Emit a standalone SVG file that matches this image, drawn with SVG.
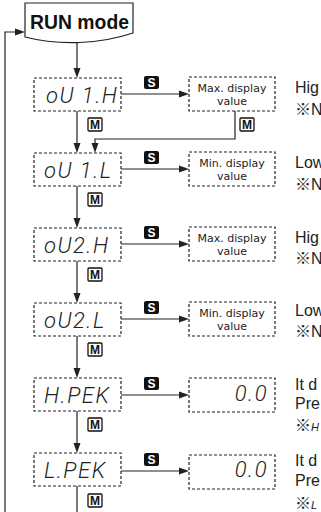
<svg xmlns="http://www.w3.org/2000/svg" width="321" height="512" viewBox="0 0 321 512">
<style>
.box{fill:#fff;stroke:#222;stroke-width:1.2;stroke-dasharray:3 2}
.ln{fill:none;stroke:#222;stroke-width:1.2}
.ah{fill:#222}
.disp{font-family:Roboto,"Liberation Sans",sans-serif;font-style:italic;font-weight:300;font-size:22px;fill:#222;letter-spacing:1.5px}
.val{font-family:"DejaVu Sans",sans-serif;font-size:11px;fill:#222;text-anchor:middle}
.desc{font-family:"Liberation Sans","Noto Sans CJK JP",sans-serif;font-size:16px;fill:#222}
.sk{fill:#111}
.st{font-family:"Liberation Sans",sans-serif;font-weight:bold;font-size:12px;fill:#fff;text-anchor:middle}
.mk{fill:#fff;stroke:#111;stroke-width:1.3}
.mt{font-family:"Liberation Sans",sans-serif;font-weight:bold;font-size:12px;fill:#111;text-anchor:middle}
</style>
<defs>
<g id="sKey"><rect class="sk" x="0" y="0" width="15" height="13" rx="2"/><text class="st" x="7.5" y="11">S</text></g>
<g id="mKey"><rect class="mk" x="0" y="0" width="14" height="13" rx="1"/><text class="mt" x="7" y="11">M</text></g>
</defs>

<g id="run-mode">
<path d="M25,3 H133 V33 C100,44 60,46 25,37 Z" fill="#fff" stroke="#222" stroke-width="1.2"/>
<text x="30" y="29" font-family="Liberation Sans,sans-serif" font-weight="bold" font-size="21" fill="#111" textLength="99" lengthAdjust="spacingAndGlyphs">RUN mode</text>
</g>

<g id="connectors">
<line class="ln" x1="77" y1="42" x2="77" y2="70"/><polygon class="ah" points="77,78 73.5,68 80.5,68"/>
<line class="ln" x1="77" y1="111" x2="77" y2="145"/><polygon class="ah" points="77,153 73.5,143 80.5,143"/>
<line class="ln" x1="77" y1="186" x2="77" y2="220"/><polygon class="ah" points="77,228 73.5,218 80.5,218"/>
<line class="ln" x1="77" y1="261" x2="77" y2="295"/><polygon class="ah" points="77,303 73.5,293 80.5,293"/>
<line class="ln" x1="77" y1="336" x2="77" y2="370"/><polygon class="ah" points="77,378 73.5,368 80.5,368"/>
<line class="ln" x1="77" y1="411" x2="77" y2="445"/><polygon class="ah" points="77,453 73.5,443 80.5,443"/>
<line class="ln" x1="77" y1="486" x2="77" y2="512"/>
<polyline class="ln" points="235,111 235,139 95,139 95,145"/><polygon class="ah" points="95,153 91.5,143 98.5,143"/>
<polyline class="ln" points="5,512 5,32 17,32"/><polygon class="ah" points="25,32 15,28.5 15,35.5"/>
<line class="ln" x1="121" y1="94" x2="181" y2="94"/><polygon class="ah" points="189,94 179,90.5 179,97.5"/>
<line class="ln" x1="121" y1="169" x2="181" y2="169"/><polygon class="ah" points="189,169 179,165.5 179,172.5"/>
<line class="ln" x1="121" y1="244" x2="181" y2="244"/><polygon class="ah" points="189,244 179,240.5 179,247.5"/>
<line class="ln" x1="121" y1="319" x2="181" y2="319"/><polygon class="ah" points="189,319 179,315.5 179,322.5"/>
<line class="ln" x1="121" y1="395" x2="181" y2="395"/><polygon class="ah" points="189,395 179,391.5 179,398.5"/>
<line class="ln" x1="121" y1="471" x2="181" y2="471"/><polygon class="ah" points="189,471 179,467.5 179,474.5"/>
<use href="#sKey" x="144" y="76"/>
<use href="#sKey" x="144" y="151"/>
<use href="#sKey" x="144" y="226"/>
<use href="#sKey" x="144" y="301"/>
<use href="#sKey" x="144" y="377"/>
<use href="#sKey" x="144" y="453"/>
<use href="#mKey" x="88" y="118"/>
<use href="#mKey" x="88" y="193"/>
<use href="#mKey" x="88" y="268"/>
<use href="#mKey" x="88" y="343"/>
<use href="#mKey" x="88" y="418"/>
<use href="#mKey" x="88" y="494"/>
<use href="#mKey" x="240" y="118"/>
</g>

<g id="oU1H"><rect class="box" x="34" y="78" width="87" height="33"/><text class="disp" x="46" y="103">oU 1.H</text></g>
<g id="oU1L"><rect class="box" x="34" y="153" width="87" height="33"/><text class="disp" x="44" y="178">oU 1.L</text></g>
<g id="oU2H"><rect class="box" x="34" y="228" width="87" height="33"/><text class="disp" x="44" y="253">oU2.H</text></g>
<g id="oU2L"><rect class="box" x="34" y="303" width="87" height="33"/><text class="disp" x="44" y="328">oU2.L</text></g>
<g id="HPEK"><rect class="box" x="34" y="378" width="87" height="33"/><text class="disp" x="44" y="403">H.PEK</text></g>
<g id="LPEK"><rect class="box" x="34" y="453" width="87" height="33"/><text class="disp" x="44" y="478">L.PEK</text></g>

<g id="max1"><rect class="box" x="189" y="77" width="86" height="34"/><text class="val" x="232" y="92">Max. display</text><text class="val" x="232" y="105">value</text></g>
<g id="min1"><rect class="box" x="189" y="152" width="86" height="34"/><text class="val" x="232" y="167">Min. display</text><text class="val" x="232" y="180">value</text></g>
<g id="max2"><rect class="box" x="189" y="227" width="86" height="34"/><text class="val" x="232" y="242">Max. display</text><text class="val" x="232" y="255">value</text></g>
<g id="min2"><rect class="box" x="189" y="302" width="86" height="34"/><text class="val" x="232" y="317">Min. display</text><text class="val" x="232" y="330">value</text></g>
<g id="zero1"><rect class="box" x="189" y="378" width="86" height="34"/><text class="disp" x="268" y="401" text-anchor="end">0.0</text></g>
<g id="zero2"><rect class="box" x="189" y="455" width="86" height="34"/><text class="disp" x="268" y="477" text-anchor="end">0.0</text></g>

<g id="descriptions">
<text class="desc" x="295" y="93">Hig</text><text class="desc" x="295" y="115">※N</text>
<text class="desc" x="295" y="168">Low</text><text class="desc" x="295" y="190">※N</text>
<text class="desc" x="295" y="243">Hig</text><text class="desc" x="295" y="264">※N</text>
<text class="desc" x="295" y="316">Low</text><text class="desc" x="295" y="337">※N</text>
<text class="desc" x="295" y="390">It d</text><text class="desc" x="295" y="409">Pre</text><text class="desc" x="295" y="431">※<tspan font-style="italic" font-size="11">H</tspan></text>
<text class="desc" x="295" y="466">It d</text><text class="desc" x="295" y="486">Pre</text><text class="desc" x="295" y="509">※<tspan font-style="italic" font-size="11">L</tspan></text>
</g>
</svg>
